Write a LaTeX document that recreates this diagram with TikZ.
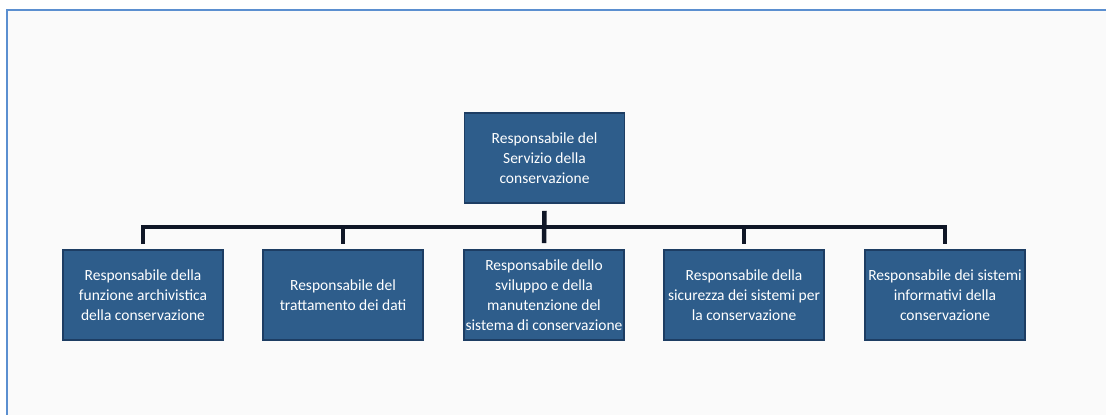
\documentclass[tikz,border=0pt]{standalone}
\usepackage{fontspec}
\setmainfont{Carlito}
\definecolor{bgc}{HTML}{FAFAFA}
\definecolor{framec}{HTML}{5B8FD0}
\definecolor{boxfill}{HTML}{2E5D8B}
\definecolor{boxedge}{HTML}{1D3D63}
\definecolor{linec}{HTML}{0F1626}
\begin{document}
\begin{tikzpicture}[x=1pt,y=-1pt,
  box/.style={rectangle, draw=boxedge, fill=boxfill, line width=1.6pt,
    minimum width=160pt, minimum height=90pt, inner sep=0pt,
    text=white, align=center, font=\fontsize{15.5}{20}\selectfont},
  conn/.style={draw=linec, line width=4.5pt, line join=miter}]
\useasboundingbox (0,0) rectangle (1106,415);
\fill[white] (0,0) rectangle (1106,415);
\fill[bgc] (8,11) rectangle (1106,415);
\draw[framec, line width=2.5pt] (7,415) -- (7,10) -- (1106,10);

\node[box] (top) at (544.5,158) {Responsabile del\\Servizio della\\conservazione};
\node[box] (b1) at (143,295) {Responsabile della\\funzione archivistica\\della conservazione};
\node[box] (b2) at (343,295) {Responsabile del\\trattamento dei dati};
\node[box] (b3) at (544,295) {Responsabile dello\\sviluppo e della\\manutenzione del\\sistema di conservazione};
\node[box] (b4) at (744,295) {Responsabile della\\sicurezza dei sistemi per\\la conservazione};
\node[box] (b5) at (945,295) {Responsabile dei sistemi\\informativi della\\conservazione};

\coordinate (bar) at (544,227);
\draw[conn] ([yshift=5pt]b1.north) |- (bar) -| ([yshift=5pt]b5.north);
\draw[conn] ([yshift=-7pt]top.south) -- ([yshift=6pt]b3.north);
\draw[conn] (bar -| b2.north) -- ([yshift=5pt]b2.north);
\draw[conn] (bar -| b4.north) -- ([yshift=5pt]b4.north);
\end{tikzpicture}
\end{document}
